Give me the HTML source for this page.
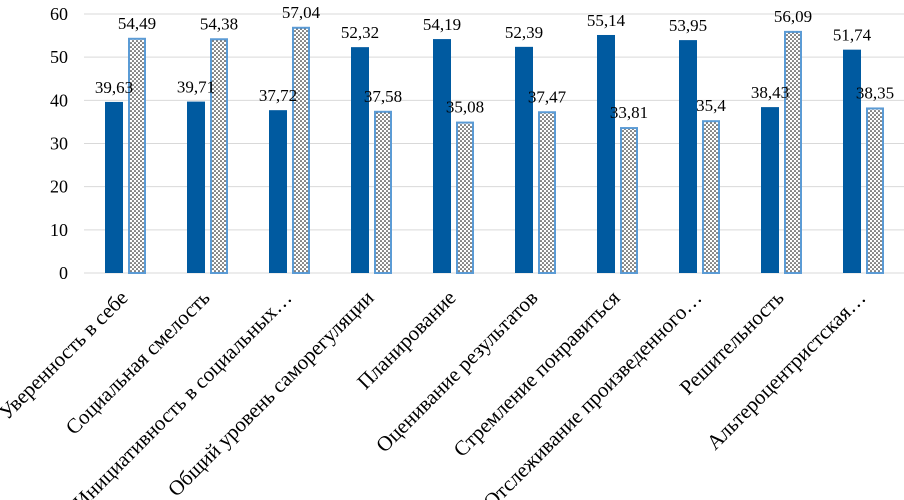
<!DOCTYPE html>
<html><head><meta charset="utf-8"><style>
html,body{margin:0;padding:0;background:#fff;}
svg{display:block;font-family:"Liberation Serif",serif;}
</style></head><body>
<svg id="chart" width="904" height="500" viewBox="0 0 904 500">
<defs>
<pattern id="dots" width="4" height="4" patternUnits="userSpaceOnUse">
<rect width="4" height="4" fill="#fff"/>
<circle cx="1" cy="1" r="0.8" fill="#000"/>
<circle cx="3" cy="3" r="0.8" fill="#000"/>
</pattern>
</defs>
</svg>
<script>
const categories=["Уверенность в себе","Социальная смелость","Инициативность в социальных…","Общий уровень саморегуляции","Планирование","Оценивание результатов","Стремление понравиться","Отслеживание произведенного…","Решительность","Альтероцентристская…"];
const seriesA=[39.63,39.71,37.72,52.32,54.19,52.39,55.14,53.95,38.43,51.74];
const seriesB=[54.49,54.38,57.04,37.58,35.08,37.47,33.81,35.4,56.09,38.35];
const labelsA=["39,63","39,71","37,72","52,32","54,19","52,39","55,14","53,95","38,43","51,74"];
const labelsB=["54,49","54,38","57,04","37,58","35,08","37,47","33,81","35,4","56,09","38,35"];
const yTicks=[0,10,20,30,40,50,60];
const NS="http://www.w3.org/2000/svg";
const svg=document.getElementById('chart');
const x0=84,x1=904,yBase=273,yTop=14,yMax=60;
const band=(x1-x0)/categories.length;
const y=v=>yBase-(v/yMax)*(yBase-yTop);
const xc=i=>x0+band*(i+0.5);
function mk(t,a){const e=document.createElementNS(NS,t);for(const k in a)e.setAttribute(k,a[k]);svg.appendChild(e);return e;}
yTicks.forEach(t=>{
  if(t>0){const g=mk('line',{x1:x0,x2:x1,y1:y(t),y2:y(t),stroke:'#d9d9d9','stroke-width':1});
  
  }
  const l=mk('text',{x:68,y:y(t)+6,'text-anchor':'end','font-size':18,fill:'#000'});
  l.textContent=t;
  
  
});
const ax=mk('line',{x1:x0,x2:x1,y1:yBase,y2:yBase,stroke:'#d9d9d9','stroke-width':1});


categories.forEach((c,i)=>{
  const cx=xc(i);
  const a=mk('rect',{x:cx-20,y:y(seriesA[i]),width:18,height:yBase-y(seriesA[i]),fill:'#005aa0'});
  
  
  const b=mk('rect',{x:cx+4,y:y(seriesB[i])+1,width:16,height:yBase-y(seriesB[i])-1,fill:'url(#dots)',stroke:'#5b9bd5','stroke-width':2});
  
  
  const la=mk('text',{x:cx-11,y:y(seriesA[i])-9,'text-anchor':'middle','font-size':17,fill:'#000'});
  la.textContent=labelsA[i];
  
  
  const lb=mk('text',{x:cx+12,y:y(seriesB[i])-9,'text-anchor':'middle','font-size':17,fill:'#000'});
  lb.textContent=labelsB[i];
  
  
  const cl=mk('text',{x:0,y:0,'text-anchor':'end','font-size':21,fill:'#000',transform:`translate(${cx+4},${299}) rotate(-45)`});
  cl.textContent=c;
  
  
});
</script>
</body></html>
